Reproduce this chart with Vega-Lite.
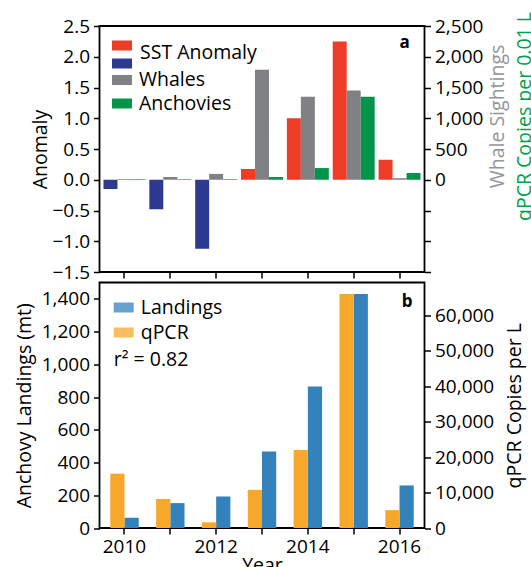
{
  "$schema": "https://vega.github.io/schema/vega-lite/v6.json",
  "padding": {"left": 12.5, "top": 10, "right": 0, "bottom": 0},
  "background": "white",
  "config": {
    "font": "Open Sans",
    "view": {"stroke": "black", "strokeWidth": 1.8},
    "axis": {
      "labelFont": "Open Sans", "labelFontSize": 19, "labelColor": "black",
      "titleFont": "Open Sans", "titleFontSize": 19.5, "titleFontWeight": "normal", "titleColor": "black",
      "tickColor": "black", "tickWidth": 1.5, "tickSize": 6, "domain": false, "grid": false, "labelPadding": 4
    },
    "legend": {
      "labelFont": "Open Sans", "labelFontSize": 19.5, "labelColor": "black", "labelLimit": 300,
      "titleFont": "Open Sans", "titleFontSize": 19.5, "titleFontWeight": "normal", "titleColor": "black", "titleLimit": 300
    }
  },
  "datasets": {
    "top": [
      {"year": 2010, "series": "SST", "value": -0.15},
      {"year": 2010, "series": "Whales", "value": 12},
      {"year": 2010, "series": "Anchovies", "value": 10},
      {"year": 2011, "series": "SST", "value": -0.48},
      {"year": 2011, "series": "Whales", "value": 45},
      {"year": 2011, "series": "Anchovies", "value": 10},
      {"year": 2012, "series": "SST", "value": -1.12},
      {"year": 2012, "series": "Whales", "value": 95},
      {"year": 2012, "series": "Anchovies", "value": 10},
      {"year": 2013, "series": "SST", "value": 0.175},
      {"year": 2013, "series": "Whales", "value": 1790},
      {"year": 2013, "series": "Anchovies", "value": 45},
      {"year": 2014, "series": "SST", "value": 1.0},
      {"year": 2014, "series": "Whales", "value": 1350},
      {"year": 2014, "series": "Anchovies", "value": 190},
      {"year": 2015, "series": "SST", "value": 2.25},
      {"year": 2015, "series": "Whales", "value": 1450},
      {"year": 2015, "series": "Anchovies", "value": 1350},
      {"year": 2016, "series": "SST", "value": 0.325},
      {"year": 2016, "series": "Whales", "value": 25},
      {"year": 2016, "series": "Anchovies", "value": 110}
    ],
    "bottom": [
      {"year": 2010, "series": "Landings", "value": 62},
      {"year": 2010, "series": "qPCR", "value": 15340},
      {"year": 2011, "series": "Landings", "value": 152},
      {"year": 2011, "series": "qPCR", "value": 8180},
      {"year": 2012, "series": "Landings", "value": 192},
      {"year": 2012, "series": "qPCR", "value": 1600},
      {"year": 2013, "series": "Landings", "value": 468},
      {"year": 2013, "series": "qPCR", "value": 10760},
      {"year": 2014, "series": "Landings", "value": 865},
      {"year": 2014, "series": "qPCR", "value": 22030},
      {"year": 2015, "series": "Landings", "value": 1430},
      {"year": 2015, "series": "qPCR", "value": 66070},
      {"year": 2016, "series": "Landings", "value": 260},
      {"year": 2016, "series": "qPCR", "value": 5040}
    ]
  },
  "bounds": "flush",
  "spacing": 10.5,
  "resolve": {
    "scale": {"x": "independent", "xOffset": "independent", "color": "independent", "fill": "independent", "y": "independent"},
    "legend": {"color": "independent", "fill": "independent"}
  },
  "vconcat": [
    {
      "width": 325,
      "height": 246,
      "layer": [
        {
          "data": {"name": "top"},
          "transform": [
            {"filter": "datum.series == 'SST'"},
            {"calculate": "datum.value < 0 ? 'neg' : 'pos'", "as": "key"}
          ],
          "mark": {"type": "bar"},
          "encoding": {
            "x": {"field": "year", "type": "ordinal", "scale": {"paddingInner": 0.085, "paddingOuter": 0.087}, "axis": {"labels": false, "title": null}},
            "xOffset": {"field": "series", "scale": {"domain": ["SST", "Whales", "Anchovies"], "paddingInner": 0, "paddingOuter": 0}},
            "y": {"field": "value", "type": "quantitative", "scale": {"domain": [-1.5, 2.5], "nice": false}, "axis": {"orient": "left", "values": [-1.5, -1, -0.5, 0, 0.5, 1, 1.5, 2, 2.5], "format": ".1f", "title": "Anomaly", "titlePadding": 1}},
            "fill": {"field": "key", "type": "nominal", "scale": {"domain": ["pos", "neg"], "range": ["#EE3D26", "#2E3A8F"]},
              "legend": {"orient": "none", "legendX": 12.5, "legendY": 9.5, "title": "SST Anomaly", "titleOrient": "right", "titleAnchor": "middle", "titleBaseline": "middle", "titlePadding": 8, "symbolType": "M-1,-0.5H1V0.5H-1Z", "symbolSize": 400, "symbolStrokeWidth": 0, "symbolOpacity": 1, "labelOffset": 0, "labelFontSize": 1, "rowPadding": 3, "labelExpr": "''"}}
          }
        },
        {
          "data": {"name": "top"},
          "transform": [{"filter": "datum.series == 'Whales'"}],
          "mark": {"type": "bar"},
          "encoding": {
            "x": {"field": "year", "type": "ordinal"},
            "xOffset": {"field": "series"},
            "y": {"field": "value", "type": "quantitative", "scale": {"domain": [-1500, 2500], "nice": false}, "axis": {"orient": "right", "values": [-1500, -1000, -500, 0, 500, 1000, 1500, 2000, 2500], "labelExpr": "datum.value < 0 ? '' : format(datum.value, ',')", "title": "Whale Sightings", "titleColor": "#939598", "titleAngle": 270, "titleBaseline": "top", "titleY": 90, "titlePadding": 6}},
            "color": {"field": "series", "type": "nominal", "scale": {"domain": ["Whales", "Anchovies"], "range": ["#808184", "#00954A"]},
              "legend": {"orient": "none", "legendX": 12.5, "legendY": 44, "title": null, "symbolType": "M-1,-0.5H1V0.5H-1Z", "symbolSize": 400, "symbolStrokeWidth": 0, "symbolOpacity": 1, "labelOffset": 7, "rowPadding": 3.5}}
          }
        },
        {
          "data": {"name": "top"},
          "transform": [{"filter": "datum.series == 'Anchovies'"}],
          "mark": {"type": "bar"},
          "encoding": {
            "x": {"field": "year", "type": "ordinal"},
            "xOffset": {"field": "series"},
            "y": {"field": "value", "type": "quantitative", "scale": {"domain": [-1500, 2500], "nice": false}, "axis": {"orient": "right", "labels": false, "ticks": false, "title": "qPCR Copies per 0.01 L", "titleColor": "#00A14B", "titleAngle": 270, "titleBaseline": "top", "titleY": 90, "titlePadding": 91}},
            "color": {"field": "series", "type": "nominal"}
          }
        },
        {
          "data": {"values": [{"panel": "a"}]},
          "mark": {"type": "text", "fontWeight": "bold", "fontSize": 17, "baseline": "alphabetic", "align": "center", "dx": 5, "color": "black"},
          "encoding": {
            "x": {"datum": 2016, "type": "ordinal"},
            "y": {"datum": 2.14, "type": "quantitative", "scale": {"domain": [-1.5, 2.5], "nice": false}, "axis": null},
            "text": {"field": "panel"}
          }
        }
      ],
      "resolve": {"scale": {"y": "independent"}}
    },
    {
      "width": 325,
      "height": 245.5,
      "layer": [
        {
          "data": {"name": "bottom"},
          "transform": [{"filter": "datum.series == 'Landings'"}],
          "mark": {"type": "bar"},
          "encoding": {
            "x": {"field": "year", "type": "ordinal", "scale": {"paddingInner": 0.38, "paddingOuter": 0.235}, "axis": {"labelAngle": 0, "labelExpr": "datum.value % 2 == 0 ? datum.label : ''", "title": "Year", "titlePadding": 0, "labelPadding": 3}},
            "xOffset": {"field": "series", "scale": {"domain": ["qPCR", "Landings"], "paddingInner": 0, "paddingOuter": 0}},
            "y": {"field": "value", "type": "quantitative", "scale": {"domain": [0, 1500], "nice": false}, "axis": {"orient": "left", "values": [0, 200, 400, 600, 800, 1000, 1200, 1400], "format": ",d", "title": "Anchovy Landings (mt)", "titlePadding": 7}},
            "color": {"field": "series", "type": "nominal", "scale": {"domain": ["Landings", "qPCR"], "range": ["#3482BC", "#F7A82B"]},
              "legend": {"orient": "none", "legendX": 14.2, "legendY": 15, "title": "r² = 0.82", "titleOrient": "bottom", "titleAnchor": "start", "titlePadding": 8, "symbolType": "M-1,-0.5H1V0.5H-1Z", "symbolSize": 400, "symbolStrokeWidth": 0, "symbolOpacity": 0.75, "labelOffset": 7, "rowPadding": 5}}
          }
        },
        {
          "data": {"name": "bottom"},
          "transform": [{"filter": "datum.series == 'qPCR'"}],
          "mark": {"type": "bar"},
          "encoding": {
            "x": {"field": "year", "type": "ordinal"},
            "xOffset": {"field": "series"},
            "y": {"field": "value", "type": "quantitative", "scale": {"domain": [0, 69300], "nice": false}, "axis": {"orient": "right", "values": [0, 10000, 20000, 30000, 40000, 50000, 60000], "format": ",d", "title": "qPCR Copies per L", "titleAngle": 270, "titleBaseline": "top", "titlePadding": 12}},
            "color": {"field": "series", "type": "nominal"}
          }
        },
        {
          "data": {"values": [{"panel": "b"}]},
          "mark": {"type": "text", "fontWeight": "bold", "fontSize": 17, "baseline": "alphabetic", "align": "center", "dx": 7.5, "color": "black"},
          "encoding": {
            "x": {"datum": 2016, "type": "ordinal"},
            "y": {"datum": 1349, "type": "quantitative", "scale": {"domain": [0, 1500], "nice": false}, "axis": null},
            "text": {"field": "panel"}
          }
        }
      ],
      "resolve": {"scale": {"y": "independent"}}
    }
  ]
}
